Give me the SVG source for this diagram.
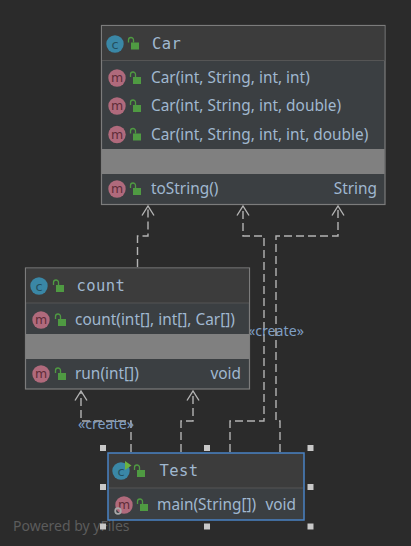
<svg xmlns="http://www.w3.org/2000/svg" xmlns:xlink="http://www.w3.org/1999/xlink" width="411" height="546" viewBox="0 0 411 546">
<style>
text{font-family:"Noto Sans","Liberation Sans",sans-serif;font-size:15.4px;fill:#a0b8d0}
.t{font-family:"DejaVu Sans Mono","Liberation Mono",monospace;font-size:15.5px;letter-spacing:.4px}
.l{font-size:14.2px;fill:#7f9fc4}
.w{font-size:14px;fill:#5c5c5c}
.box{fill:#3b3f42;stroke:#7c7c7c;stroke-width:1.2}
.hd{fill:#3c3c3c}
.sep{stroke:#555;stroke-width:1.2}
.gr{fill:#808080}
.e{fill:none;stroke:#b4b4b4;stroke-width:1.4;stroke-dasharray:8 4}
.a{fill:none;stroke:#b4b4b4;stroke-width:1.4}
.h{fill:#c8c8c8}
.c{fill:#3a87a6}
.m{fill:#b06a7c}
.ci{font-family:"DejaVu Sans",sans-serif;font-size:13px;fill:#24505f;text-anchor:middle}
.mi{font-family:"DejaVu Sans",sans-serif;font-size:12.5px;fill:#5e2c38;text-anchor:middle}
.lk{fill:#4f9a42}
.sh{fill:none;stroke:#4f9a42;stroke-width:1.3}
</style>
<defs>
<g id="lock"><rect x="-2" y="-1" width="8" height="7" class="lk"/><path d="M-4.500-1v-2.500a2.500 2.500 0 0 1 5 0V-1" class="sh"/></g>
<g id="mi"><circle r="8.700" class="m"/><text y="4" class="mi">m</text></g>
<g id="ci"><circle r="8.700" class="c"/><text y="4.500" class="ci">c</text></g>
</defs>
<rect width="411" height="546" fill="#2b2b2b"/>
<text x="13" y="531" class="w">Powered by yFiles</text>
<g id="connectors">
<path class="e" d="M137.500 267V236H148V207"/><path class="a" d="M142 215.500L148 206L154 215.500"/>
<path class="e" d="M230 452V421H264V236H243V207"/><path class="a" d="M237 215.500L243 206L249 215.500"/>
<path class="e" d="M280 452V421H276V236H338V207"/><path class="a" d="M332 215.500L338 206L344 215.500"/>
<path class="e" d="M131 452V421H81V392"/><path class="a" d="M75 400.500L81 391L87 400.500"/>
<path class="e" d="M181 452V421H193V392"/><path class="a" d="M187 400.500L193 391L199 400.500"/>
<text x="78" y="429" class="l">«create»</text>
<text x="248" y="336" class="l">«create»</text>
</g>
<g id="node-car">
<rect x="101.500" y="25.500" width="283.500" height="179" class="box"/>
<rect x="102" y="26" width="282.500" height="34.500" class="hd"/>
<path d="M102 60.500H384.500" class="sep"/>
<rect x="102" y="149" width="282.500" height="25" class="gr"/>
<use xlink:href="#ci" x="115" y="44"/><use xlink:href="#lock" x="133" y="43.500"/>
<text x="152" y="49" class="t">Car</text>
<use xlink:href="#mi" x="117" y="78"/><use xlink:href="#lock" x="135" y="78"/>
<text x="151" y="83">Car(int, String, int, int)</text>
<use xlink:href="#mi" x="117" y="106"/><use xlink:href="#lock" x="135" y="106"/>
<text x="151" y="111">Car(int, String, int, double)</text>
<use xlink:href="#mi" x="117" y="134.500"/><use xlink:href="#lock" x="135" y="134.500"/>
<text x="151" y="140">Car(int, String, int, int, double)</text>
<use xlink:href="#mi" x="117" y="189"/><use xlink:href="#lock" x="135" y="189"/>
<text x="151" y="194">toString()</text>
<text x="377" y="194" text-anchor="end">String</text>
</g>
<g id="node-count">
<rect x="25.500" y="268" width="224" height="121" class="box"/>
<rect x="26" y="268.500" width="223" height="34.500" class="hd"/>
<path d="M26 303H249" class="sep"/>
<rect x="26" y="334" width="223" height="25" class="gr"/>
<use xlink:href="#ci" x="39" y="286"/><use xlink:href="#lock" x="58" y="286"/>
<text x="76.500" y="291" class="t">count</text>
<use xlink:href="#mi" x="41" y="320"/><use xlink:href="#lock" x="60" y="320"/>
<text x="75" y="325">count(int[], int[], Car[])</text>
<use xlink:href="#mi" x="41" y="374"/><use xlink:href="#lock" x="60" y="374"/>
<text x="75" y="379">run(int[])</text>
<text x="241" y="379" text-anchor="end">void</text>
</g>
<g id="node-test">
<rect x="108" y="453" width="196" height="67" fill="#3b3f42" stroke="#4a82c3" stroke-width="1.500"/>
<rect x="109" y="454" width="194" height="34" class="hd"/>
<path d="M109 488H303" class="sep"/>
<use xlink:href="#ci" x="121" y="471"/><path d="M125 461l6.500 4.500l-6.500 4.500z" fill="#6cb33f"/><use xlink:href="#lock" x="139" y="471"/>
<text x="159.500" y="476" class="t">Test</text>
<use xlink:href="#mi" x="124" y="505"/><use xlink:href="#lock" x="142" y="505"/>
<circle cx="118" cy="511" r="2.800" fill="none" stroke="#a8a8a8" stroke-width="1.800"/>
<text x="157" y="510">main(String[])</text>
<text x="296" y="510" text-anchor="end">void</text>
</g>
<g id="handles" class="h">
<rect x="100" y="445" width="6" height="6"/><rect x="204" y="445" width="6" height="6"/><rect x="307.500" y="445" width="6" height="6"/>
<rect x="100" y="484" width="6" height="6"/><rect x="307.500" y="484" width="6" height="6"/>
<rect x="100" y="523.500" width="6" height="6"/><rect x="204" y="523.500" width="6" height="6"/><rect x="307.500" y="523.500" width="6" height="6"/>
</g>
</svg>
